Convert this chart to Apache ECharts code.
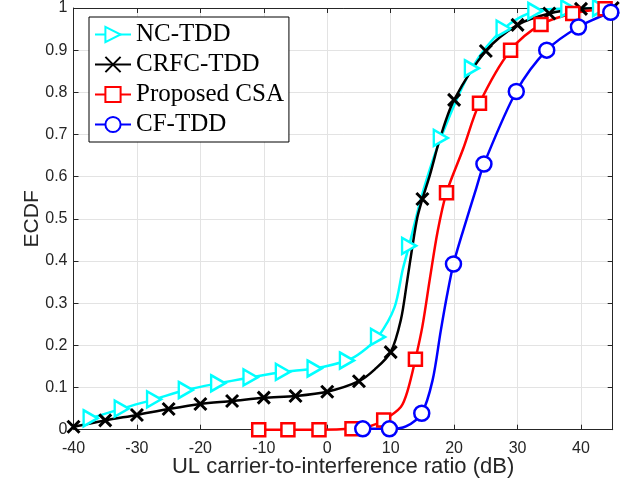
<!DOCTYPE html>
<html>
<head>
<meta charset="utf-8">
<script src="https://cdn.jsdelivr.net/npm/echarts@6/dist/echarts.min.js"></script>
<style>html,body{margin:0;padding:0;background:#fff;}#c{width:636px;height:491px;}</style>
</head>
<body>
<div id="c"></div>
<script>
// ---- data ----
const seriesNames = ['NC-TDD', 'CRFC-TDD', 'Proposed CSA', 'CF-TDD'];
const xTicks = [-40, -30, -20, -10, 0, 10, 20, 30, 40];
const yTicks = [0, 0.1, 0.2, 0.3, 0.4, 0.5, 0.6, 0.7, 0.8, 0.9, 1];

// NC-TDD (cyan) marker points
const ncX = [-37.3, -32.4, -27.3, -22.3, -17.2, -12.1, -7, -2, 3.1, 8, 12.9, 17.9, 22.8, 27.8, 32.8, 38, 43];
const ncY = [0.027, 0.05, 0.072, 0.094, 0.11, 0.124, 0.137, 0.145, 0.164, 0.22, 0.436, 0.692, 0.857, 0.951, 0.993, 0.999, 1.0];
// NC-TDD extra curve points (no marker)
const ncLineX = [5.5, 10.6, 11.9, 15];
const ncLineY = [0.185, 0.29, 0.38, 0.56];

// CRFC-TDD (black)
const crX = [-40, -35, -30, -25, -20, -15, -10, -5, 0, 5, 10, 15, 20, 25, 30, 35, 40, 45];
const crY = [0.007, 0.022, 0.035, 0.049, 0.061, 0.068, 0.076, 0.08, 0.09, 0.115, 0.184, 0.547, 0.782, 0.898, 0.96, 0.987, 0.998, 1.0];
const crLineX = [7.5, 11.6, 12.6, 13.4, 14.2, 16.2, 17.8];
const crLineY = [0.143, 0.26, 0.353, 0.432, 0.503, 0.605, 0.692];

// Proposed CSA (red)
const csaX = [-10.8, -6.2, -1.3, 3.9, 8.9, 13.9, 18.8, 24, 28.9, 33.7, 38.7, 43.8];
const csaY = [0, 0, 0, 0.002, 0.023, 0.167, 0.562, 0.774, 0.9, 0.961, 0.987, 0.998];
const csaLineX = [6.5, 11.6, 12.7, 15, 16.2, 17.4, 21.4];
const csaLineY = [0.007, 0.054, 0.094, 0.245, 0.36, 0.47, 0.665];

// CF-TDD (blue)
const cfX = [5.6, 9.8, 14.9, 19.9, 24.7, 29.8, 34.6, 39.6, 44.7];
const cfY = [0.002, 0.002, 0.039, 0.393, 0.63, 0.802, 0.9, 0.955, 0.99];
const cfLineX = [12.4, 16.6, 17.9, 18.9, 21.4, 23.5];
const cfLineY = [0.008, 0.117, 0.235, 0.32, 0.471, 0.573];

function build(mx, my, lx, ly) {
  const pts = [];
  mx.forEach((x, i) => pts.push({ value: [x, my[i]] }));
  lx.forEach((x, i) => pts.push({ value: [x, ly[i]], symbol: 'none' }));
  pts.sort((a, b) => a.value[0] - b.value[0]);
  return pts;
}

const chart = echarts.init(document.getElementById('c'), null, { renderer: 'canvas' });
const axisCol = '#262626';
const tickFont = { fontFamily: 'Liberation Sans, Arial, sans-serif', fontSize: 16, color: axisCol };

const common = {
  type: 'line',
  smooth: 0.3,
  xAxisIndex: 0, yAxisIndex: 0,
  z: 3
};

chart.setOption({
  animation: false,
  backgroundColor: '#fff',
  grid: { left: 73.5, right: 23.3, top: 6, bottom: 61.3, containLabel: false },
  xAxis: [{
    type: 'value', min: -40, max: 45, interval: 10,
    name: 'UL carrier-to-interference ratio (dB)', nameLocation: 'middle', nameGap: 26, nameMoveOverlap: false,
    nameTextStyle: { fontFamily: 'Liberation Sans, Arial, sans-serif', fontSize: 22, color: axisCol },
    axisLine: { show: true, onZero: false, lineStyle: { color: axisCol, width: 1 } },
    axisTick: { show: true, inside: true, length: 5, lineStyle: { color: axisCol } },
    axisLabel: Object.assign({ margin: 11, showMaxLabel: false, formatter: v => xTicks.includes(v) ? String(v) : '' }, tickFont),
    splitLine: { show: true, lineStyle: { color: '#e3e3e3', width: 1 } }
  }, {
    type: 'value', min: -40, max: 45, interval: 10, position: 'top',
    axisLine: { show: true, onZero: false, lineStyle: { color: axisCol, width: 1 } },
    axisTick: { show: true, inside: true, length: 5, lineStyle: { color: axisCol } },
    axisLabel: { show: false }, splitLine: { show: false }
  }],
  yAxis: [{
    type: 'value', min: 0, max: 1, interval: 0.1,
    name: 'ECDF', nameLocation: 'middle', nameGap: 31, nameMoveOverlap: false,
    nameTextStyle: { fontFamily: 'Liberation Sans, Arial, sans-serif', fontSize: 21, color: axisCol },
    axisLine: { show: true, onZero: false, lineStyle: { color: axisCol, width: 1 } },
    axisTick: { show: true, inside: true, length: 5, lineStyle: { color: axisCol } },
    axisLabel: Object.assign({ margin: 6, formatter: v => { const t = yTicks.find(k => Math.abs(k - v) < 1e-9); return t === undefined ? '' : String(+t.toFixed(1)); } }, tickFont),
    splitLine: { show: true, lineStyle: { color: '#e3e3e3', width: 1 } }
  }, {
    type: 'value', min: 0, max: 1, interval: 0.1, position: 'right',
    axisLine: { show: true, onZero: false, lineStyle: { color: axisCol, width: 1 } },
    axisTick: { show: true, inside: true, length: 5, lineStyle: { color: axisCol } },
    axisLabel: { show: false }, splitLine: { show: false }
  }],
  legend: {
    left: 89, top: 17, orient: 'vertical',
    backgroundColor: '#fff', borderColor: '#000', borderWidth: 1,
    padding: [5, 5, 5, 5], itemGap: 5, itemWidth: 36, itemHeight: 19,
    textStyle: { fontFamily: 'Liberation Serif, Times New Roman, serif', fontSize: 25, color: '#000', lineHeight: 25 },
    data: seriesNames
  },
  series: [
    Object.assign({}, common, {
      name: seriesNames[0], color: '#00ffff',
      symbol: 'path://M0,0 L10,5 L0,10 Z', symbolSize: [14, 16], symbolKeepAspect: false,
      itemStyle: { color: '#ffffff', borderColor: '#00ffff', borderWidth: 2.5 },
      lineStyle: { width: 2.5, color: '#00ffff' },
      data: build(ncX, ncY, ncLineX, ncLineY)
    }),
    Object.assign({}, common, {
      name: seriesNames[1], color: '#000000',
      symbol: 'path://M0,0 L10,10 M10,0 L0,10', symbolSize: 12,
      itemStyle: { color: 'rgba(0,0,0,0)', borderColor: '#000000', borderWidth: 3 },
      lineStyle: { width: 2.5, color: '#000000' },
      data: build(crX, crY, crLineX, crLineY)
    }),
    Object.assign({}, common, {
      name: seriesNames[2], color: '#ff0000',
      symbol: 'rect', symbolSize: 13,
      itemStyle: { color: '#ffffff', borderColor: '#ff0000', borderWidth: 2.5 },
      lineStyle: { width: 2.5, color: '#ff0000' },
      data: build(csaX, csaY, csaLineX, csaLineY)
    }),
    Object.assign({}, common, {
      name: seriesNames[3], color: '#0000ff',
      symbol: 'circle', symbolSize: 15,
      itemStyle: { color: '#ffffff', borderColor: '#0000ff', borderWidth: 2.5 },
      lineStyle: { width: 2.5, color: '#0000ff' },
      data: build(cfX, cfY, cfLineX, cfLineY)
    })
  ]
});
</script>
</body>
</html>
